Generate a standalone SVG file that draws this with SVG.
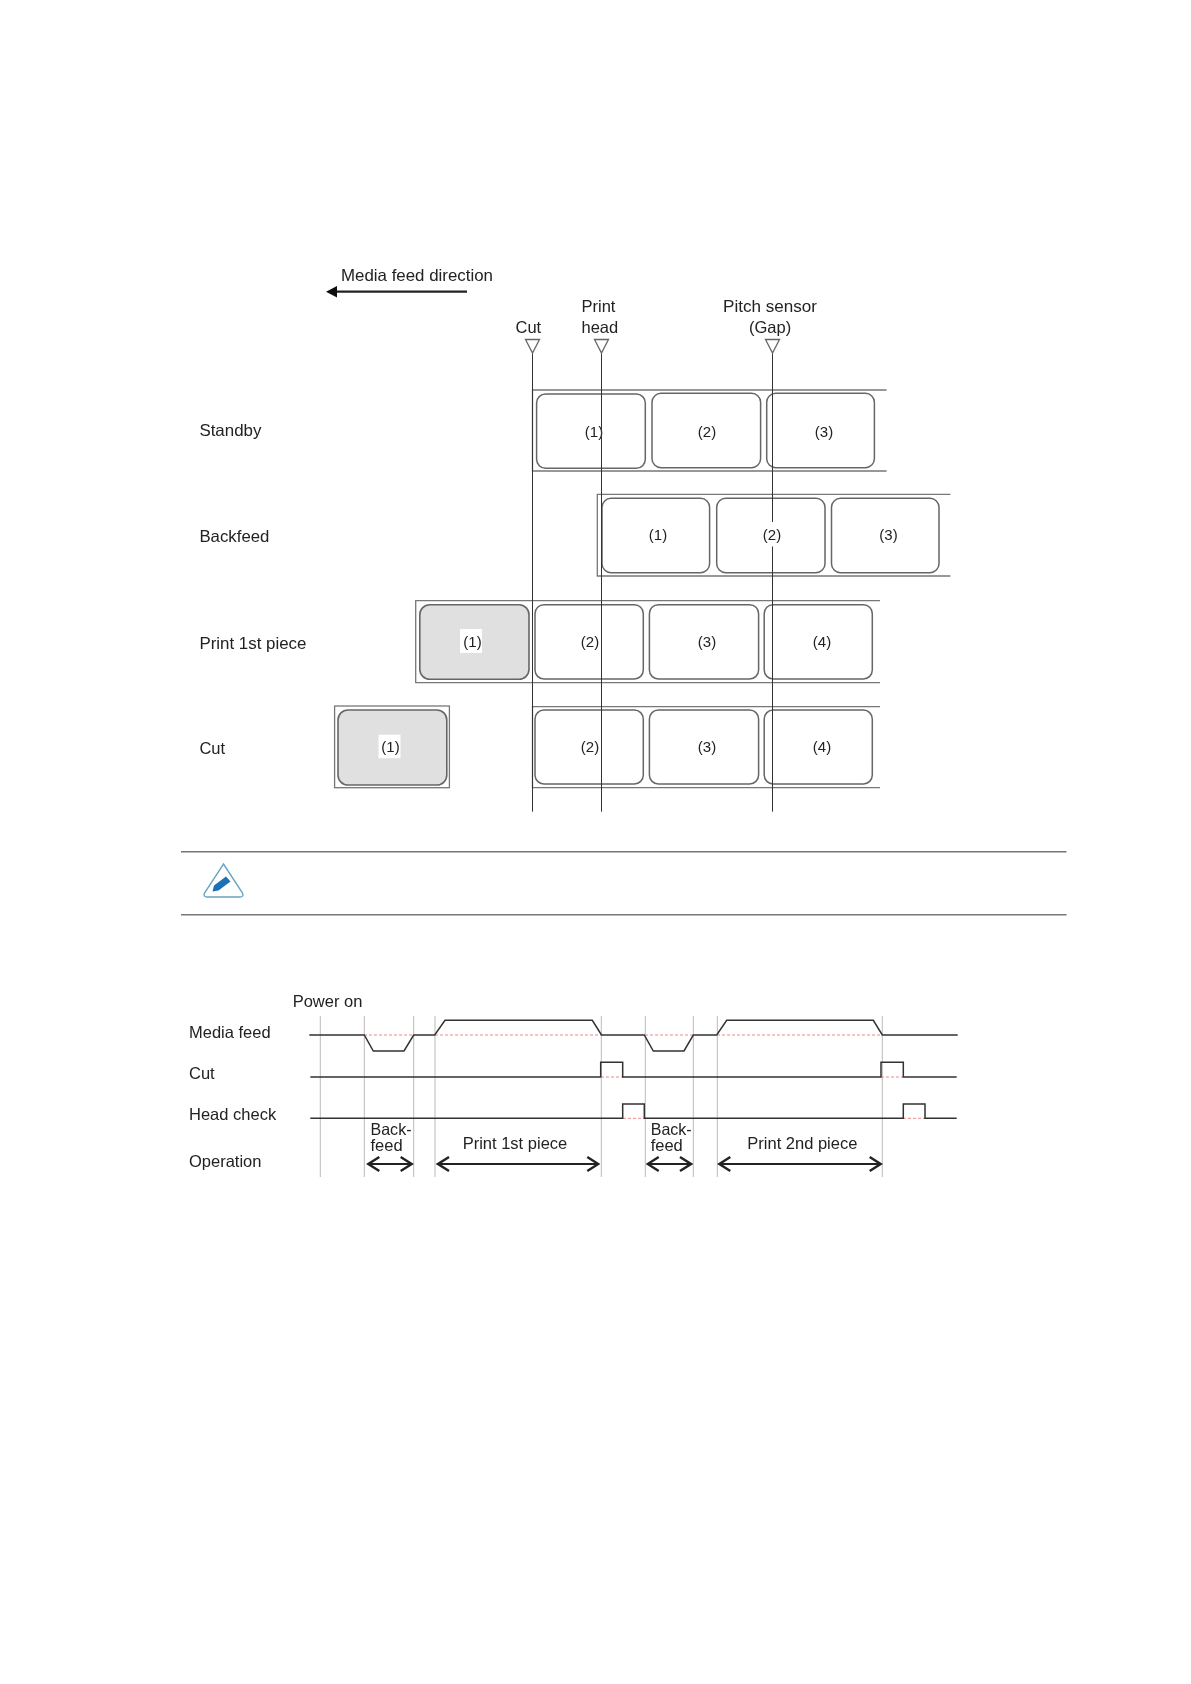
<svg xmlns="http://www.w3.org/2000/svg" width="1191" height="1684" viewBox="0 0 1191 1684">
<style>
text{font-family:"Liberation Sans",Arial,sans-serif;font-size:16.5px;fill:#222}
.c{text-anchor:middle;font-size:15px}
.strip{fill:none;stroke:#777;stroke-width:1.3}
.lab{fill:#fff;stroke:#666;stroke-width:1.5}
.gray{fill:#e0e0e0;stroke:#666;stroke-width:1.6}
.tri{fill:#fff;stroke:#666;stroke-width:1.3}
.v{stroke:#333;stroke-width:1;fill:none}
.sep{stroke:#777;stroke-width:1.4;fill:none}
.grid{stroke:#bbb;stroke-width:1;fill:none}
.sig{stroke:#333;stroke-width:1.5;fill:none}
.red{stroke:#e88;stroke-width:1;stroke-dasharray:3 2;fill:none}
.dbl{stroke:#222;stroke-width:2;fill:none;marker-start:url(#o1);marker-end:url(#o2)}
</style>
<defs>
<marker id="o1" markerUnits="userSpaceOnUse" markerWidth="16" markerHeight="18" refX="2" refY="9" orient="auto"><path d="M13 2L2 9L13 16" fill="none" stroke="#222" stroke-width="2.4"/></marker>
<marker id="o2" markerUnits="userSpaceOnUse" markerWidth="16" markerHeight="18" refX="14" refY="9" orient="auto"><path d="M3 2L14 9L3 16" fill="none" stroke="#222" stroke-width="2.4"/></marker>
<filter id="soft" x="0" y="0" width="100%" height="100%"><feGaussianBlur stdDeviation="0.35"/></filter>
</defs>
<rect width="1191" height="1684" fill="#fff"/>
<g filter="url(#soft)">
<g id="direction">
<text x="341" y="281" textLength="152" lengthAdjust="spacingAndGlyphs">Media feed direction</text>
<path d="M337 291.7H467" stroke="#222" stroke-width="2.2" fill="none"/>
<path d="M326 291.7L337 286V297.4Z" fill="#111"/>
</g>
<g id="strip-standby">
<path class="strip" d="M886.6 390H532.5V471H886.6"/>
<rect class="lab" x="536.6" y="394" width="108.7" height="74.3" rx="9"/>
<rect class="lab" x="652" y="393.3" width="108.6" height="74.4" rx="9"/>
<rect class="lab" x="766.7" y="393.3" width="107.7" height="74.4" rx="9"/>
<text class="c" x="594" y="436.5">(1)</text><text class="c" x="707" y="436.5">(2)</text><text class="c" x="824" y="436.5">(3)</text>
</g>
<g id="strip-backfeed">
<path class="strip" d="M950.4 494.3H597.3V576H950.4"/>
<rect class="lab" x="602" y="498.3" width="107.6" height="74.4" rx="9"/>
<rect class="lab" x="716.7" y="498.3" width="108.3" height="74.4" rx="9"/>
<rect class="lab" x="831.5" y="498.3" width="107.5" height="74.4" rx="9"/>
</g>
<g id="strip-print">
<path class="strip" d="M880 600.7H415.7V682.7H880"/>
<rect class="gray" x="419.8" y="604.7" width="109.2" height="74.6" rx="10"/>
<rect class="lab" x="535" y="604.7" width="108.3" height="74.3" rx="9"/>
<rect class="lab" x="649.4" y="604.7" width="109.2" height="74.3" rx="9"/>
<rect class="lab" x="764.2" y="604.7" width="108.1" height="74.3" rx="9"/>
<rect x="460" y="629" width="22" height="24" fill="#fff"/>
<text class="c" x="472.5" y="646.5">(1)</text>
</g>
<g id="strip-cut">
<rect class="strip" x="334.6" y="706" width="114.8" height="81.7"/>
<rect class="gray" x="338" y="710" width="108.8" height="75" rx="10"/>
<rect x="378.5" y="734.7" width="22" height="23.5" fill="#fff"/>
<text class="c" x="390.5" y="751.5">(1)</text>
<path class="strip" d="M880 706.7H532.5V787.7H880"/>
<rect class="lab" x="535" y="710" width="108.3" height="74" rx="9"/>
<rect class="lab" x="649.4" y="710" width="109.2" height="74" rx="9"/>
<rect class="lab" x="764.2" y="710" width="108.1" height="74" rx="9"/>
</g>
<g id="connectors">
<path class="v" d="M532.5 353V811.7M601.5 353V811.7M772.5 353V811.7"/>
<path class="tri" d="M525.5 339.5H539.5L532.5 353ZM594.5 339.5H608.5L601.5 353ZM765.5 339.5H779.5L772.5 353Z"/>
</g>
<g id="labels-top">
<rect x="762" y="522" width="20" height="24.5" fill="#fff"/>
<text class="c" x="658" y="540">(1)</text><text class="c" x="772" y="540">(2)</text><text class="c" x="888.5" y="540">(3)</text>
<text class="c" x="590" y="646.5">(2)</text><text class="c" x="707" y="646.5">(3)</text><text class="c" x="822" y="646.5">(4)</text>
<text class="c" x="590" y="751.5">(2)</text><text class="c" x="707" y="751.5">(3)</text><text class="c" x="822" y="751.5">(4)</text>
<text x="581.5" y="312">Print</text><text x="581.5" y="333">head</text><text x="515.5" y="333">Cut</text>
<text x="723" y="312" textLength="94" lengthAdjust="spacingAndGlyphs">Pitch sensor</text><text x="749" y="333">(Gap)</text>
<text x="199.4" y="436" textLength="62" lengthAdjust="spacingAndGlyphs">Standby</text><text x="199.4" y="542" textLength="70" lengthAdjust="spacingAndGlyphs">Backfeed</text><text x="199.4" y="648.5" textLength="107" lengthAdjust="spacingAndGlyphs">Print 1st piece</text><text x="199.4" y="754">Cut</text>
</g>
<g id="note">
<path class="sep" d="M181 851.7H1066.5M181 914.7H1066.5"/>
<path d="M223.5 864L242.5 893Q244 897 240 897H207Q203 897 204.5 893Z" fill="#fff" stroke="#6aa3c4" stroke-width="1.4"/>
<path d="M212.5 891.5L214 885.5L226 876.5L230.5 881.5L218.5 890.5Z" fill="#1f6fb5"/>
</g>
<g id="timing">
<path class="grid" d="M320.3 1016V1177M364.3 1016V1177M413.7 1016V1177M435 1016V1177M601.3 1016V1177M645.3 1016V1177M693.3 1016V1177M717.3 1016V1177M882.3 1016V1177"/>
<path class="red" d="M364 1035H414M435 1035H601M645 1035H693M717 1035H882M601 1077H623M881 1077H903M623 1118.3H644M903 1118.3H925"/>
<path class="sig" d="M309.3 1035H364.3L373.3 1051H404L413.7 1035H434.7L445 1020.3H592.3L601.5 1035H644.3L653.3 1051H684L693.3 1035H716.7L726.7 1020.3H873.3L882.3 1035H957.7"/>
<path class="sig" d="M310.3 1077H600.7V1062.3H622.7V1077H881V1062.3H903.3V1077H956.7"/>
<path class="sig" d="M310.3 1118.3H622.7V1104H644.3V1118.3H903.3V1104H925V1118.3H956.7"/>
<path class="dbl" d="M368.3 1164H411.7"/><path class="dbl" d="M438 1164H598.3"/><path class="dbl" d="M647.7 1164H691"/><path class="dbl" d="M719.3 1164H880.7"/>
<text x="292.7" y="1006.7">Power on</text>
<text x="189" y="1038.3">Media feed</text><text x="189" y="1078.7">Cut</text><text x="189" y="1120">Head check</text><text x="189" y="1166.7">Operation</text>
<text x="370.5" y="1135" textLength="41" lengthAdjust="spacingAndGlyphs">Back-</text><text x="370.5" y="1151">feed</text>
<text x="462.7" y="1148.7">Print 1st piece</text>
<text x="650.7" y="1135" textLength="41" lengthAdjust="spacingAndGlyphs">Back-</text><text x="650.7" y="1151">feed</text>
<text x="747.3" y="1148.7">Print 2nd piece</text>
</g>
</g>
</svg>
